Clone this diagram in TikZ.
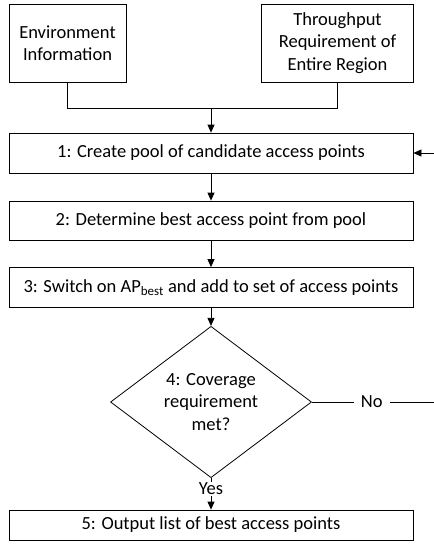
\documentclass[tikz,border=0pt]{standalone}
\usepackage{fontspec}
\setmainfont{Carlito}
\usetikzlibrary{shapes.geometric,arrows.meta}
\begin{document}
\begin{tikzpicture}[x=1pt,y=-1pt,
  txt/.style={font=\fontsize{18.5}{22.5}\selectfont},
  box/.style={draw, line width=0.8pt, inner sep=0pt, align=center, txt},
  dec/.style={draw, diamond, line width=0.8pt, inner sep=0pt, align=center, txt},
  arr/.style={-{Triangle[length=8pt,width=7pt]}},
  ln/.style={line width=0.8pt},
  lbl/.style={fill=white, inner xsep=7pt, inner ysep=1pt, txt}]
\useasboundingbox (0,0) rectangle (434,550);
\node[box, minimum width=117pt, minimum height=78pt] (env) at (67.5,43) {Environment\\Information};
\node[box, minimum width=152pt, minimum height=78pt] (thr) at (337.5,43) {Throughput\\Requirement of\\Entire Region};
\node[box, minimum width=404pt, minimum height=40pt] (b1) at (211,153) {1: Create pool of candidate access points};
\node[box, minimum width=404pt, minimum height=39pt] (b2) at (211,220.5) {2: Determine best access point from pool};
\node[box, minimum width=404pt, minimum height=40pt] (b3) at (211,287.5) {3: Switch on AP\textsubscript{best} and add to set of access points};
\node[dec, minimum width=201pt, minimum height=134pt] (dia) at (211,402) {4: Coverage\\requirement\\met?};
\node[box, minimum width=404pt, minimum height=30pt] (b5) at (211,525) {5: Output list of best access points};
\coordinate (j) at (211,108);
\coordinate (re) at (434,402);
\coordinate (re1) at (434,153);
\draw[ln] (env.south) |- (j);
\draw[ln] (thr.south) |- (j);
\draw[ln,arr] (j) -- (b1.north);
\draw[ln,arr] (b1.south) -- (b2.north);
\draw[ln,arr] (b2.south) -- (b3.north);
\draw[ln,arr] (b3.south) -- (dia.north);
\draw[ln,arr] (dia.south) -- node[lbl, pos=0.34, inner xsep=2pt] (yes) {Yes} (b5.north);
\draw[ln] (dia.east) -- node[lbl, pos=0.49] (no) {No} (re);
\draw[ln,arr] (re1) -- (b1.east);
\end{tikzpicture}
\end{document}
